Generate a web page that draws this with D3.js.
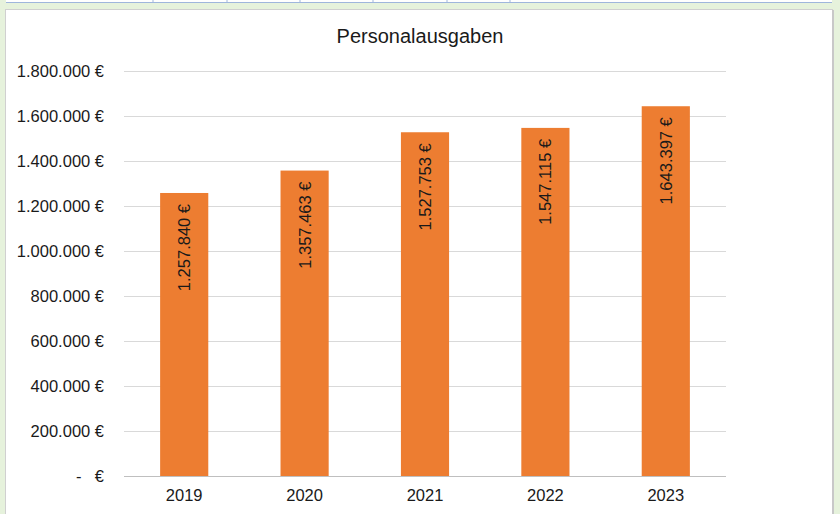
<!DOCTYPE html>
<html><head><meta charset="utf-8">
<script src="https://cdn.jsdelivr.net/npm/d3@7"></script>
<style>
html,body{margin:0;padding:0;background:#fff;}
svg{display:block;font-family:"Liberation Sans",Arial,sans-serif;}
</style></head>
<body><svg id="c" width="840" height="514"></svg>
<script>
const years = ["2019","2020","2021","2022","2023"];
const values = [1257840, 1357463, 1527753, 1547115, 1643397];
const yTicks = [0,200000,400000,600000,800000,1000000,1200000,1400000,1600000,1800000];
const title = "Personalausgaben";

const svg = d3.select("#c");
const W = 840, H = 514;
// page background
svg.append("rect").attr("width",W).attr("height",H).attr("fill","#e6f2dc");
// top table strip
svg.append("rect").attr("x",6).attr("y",0).attr("width",826).attr("height",3).attr("fill","#fff");
svg.append("line").attr("x1",6).attr("x2",832).attr("y1",2.5).attr("y2",2.5).attr("stroke","#9fb6dc");
[153,227,300,373,447,510].forEach(x=>svg.append("line").attr("x1",x).attr("x2",x).attr("y1",0).attr("y2",3).attr("stroke","#9fb6dc"));
// chart box
svg.append("rect").attr("x",5.5).attr("y",9.5).attr("width",827).attr("height",510).attr("fill","#fff").attr("stroke","#d0d0d0");
svg.append("line").attr("x1",833).attr("x2",833).attr("y1",10).attr("y2",514).attr("stroke","#c8c8c8").attr("stroke-width",2);

const x = d3.scaleBand().domain(years).range([124,726]).paddingInner(0.6).paddingOuter(0.3);
const y = d3.scaleLinear().domain([0,1800000]).range([476,71]);

// gridlines
svg.append("g").selectAll("line").data(yTicks.filter(d=>d>0)).join("line")
  .attr("x1",124).attr("x2",726).attr("y1",d=>y(d)+0.5).attr("y2",d=>y(d)+0.5)
  .attr("stroke","#d9d9d9").attr("stroke-width",1);

// bars
svg.append("g").selectAll("rect").data(values).join("rect")
  .attr("x",(d,i)=>x(years[i])).attr("width",x.bandwidth())
  .attr("y",d=>y(d)).attr("height",d=>y(0)-y(d)).attr("fill","#ed7d31");

// axis line
svg.append("line").attr("x1",124).attr("x2",726).attr("y1",476.5).attr("y2",476.5).attr("stroke","#bfbfbf");

const fmt = d3.formatLocale({decimal:",",thousands:".",grouping:[3],currency:["","€"]}).format(",.0f");

// y labels
const fs = 16.5;
const yl = svg.append("g").attr("font-size",fs).attr("fill","#1a1a1a");
yTicks.forEach(t=>{
  if(t===0){
    yl.append("text").attr("x",76).attr("y",y(t)+6).attr("text-anchor","start").text("-");
    yl.append("text").attr("x",104).attr("y",y(t)+6).attr("text-anchor","end").text("€");
  } else {
    yl.append("text").attr("x",104).attr("y",y(t)+6).attr("text-anchor","end").text(fmt(t)+" €");
  }
});

// x labels
svg.append("g").selectAll("text").data(years).join("text")
  .attr("x",d=>x(d)+x.bandwidth()/2).attr("y",501).attr("text-anchor","middle")
  .attr("font-size",fs).attr("fill","#1a1a1a").text(d=>d);

// value labels
svg.append("g").selectAll("text").data(values).join("text")
  .attr("transform",(d,i)=>`translate(${x(years[i])+x.bandwidth()/2+6},${y(d)+11}) rotate(-90)`)
  .attr("text-anchor","end").attr("font-size",fs).attr("fill","#1a1a1a").text(d=>fmt(d)+" €");

// title
svg.append("text").attr("x",420).attr("y",43).attr("text-anchor","middle").attr("font-size",20).attr("fill","#1a1a1a").text(title);
</script></body></html>
